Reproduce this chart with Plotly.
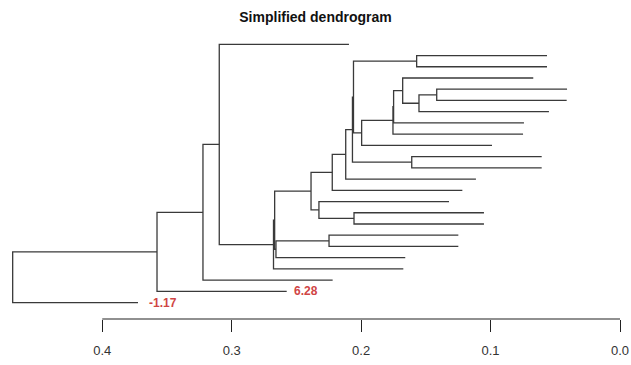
import plotly.graph_objects as go

# ---- data ----
# leaves in display order (top -> bottom); value = height where each leaf line ends
leaf_heights = [0.2094, 0.0564, 0.0564, 0.0670, 0.0409, 0.0412, 0.0549, 0.0742,
                0.0749, 0.0989, 0.0605, 0.0605, 0.1113, 0.1218, 0.1321, 0.1051,
                0.1051, 0.1249, 0.1249, 0.1659, 0.1674, 0.2220, 0.2575, 0.3724]
leaf_labels = {22: "6.28", 23: "-1.17"}

# merges: (node name, child a, child b, merge height); ints are leaves
merge_nodes = ["V", "U", "S", "T1", "T2", "P", "A", "M1", "B", "M2", "K", "C",
               "F", "E", "D", "G", "N1", "N2", "N3", "N4", "N5", "N6", "Root"]
merge_a = [4, "V", 3, "S", "T1", "T2", 1, "A", 10, "M1", "M2", "K",
           15, 14, "C", 17, "G", "D", "N2", 0, "N4", "N5", "N6"]
merge_b = [5, 6, "U", 7, 8, 9, 2, "P", 11, "B", 12, 13,
           16, "F", "E", 18, 19, "N1", 20, "N3", 21, 22, 23]
merge_h = [0.1416, 0.1553, 0.1679, 0.1749, 0.1754, 0.1996, 0.1571, 0.2059,
           0.1609, 0.2067, 0.2119, 0.2223, 0.2055, 0.2326, 0.2387, 0.2248,
           0.2658, 0.2668, 0.2677, 0.3096, 0.3222, 0.3577, 0.4692]

title_text = "Simplified dendrogram"
tick_vals = [0.4, 0.3, 0.2, 0.1, 0.0]
tick_text = ["0.4", "0.3", "0.2", "0.1", "0.0"]

# ---- build segments ----
pos = {}
hgt = {}
for i, h in enumerate(leaf_heights):
    pos[i] = i
    hgt[i] = h

xs, ys = [], []
for name, a, b, h in zip(merge_nodes, merge_a, merge_b, merge_h):
    ya, yb = pos[a], pos[b]
    xs += [hgt[a], h, h, hgt[b], None]
    ys += [ya, ya, yb, yb, None]
    pos[name] = (ya + yb) / 2
    hgt[name] = h

fig = go.Figure()
fig.add_trace(go.Scatter(x=xs, y=ys, mode="lines",
                         line=dict(color="#3a3a3a", width=1.3),
                         hoverinfo="skip", showlegend=False))

for idx, lab in leaf_labels.items():
    fig.add_annotation(x=leaf_heights[idx], y=idx, text="<b>" + lab + "</b>", showarrow=False,
                       xanchor="left", yanchor="middle",
                       xshift=5 if idx == 22 else 9,
                       font=dict(family="Liberation Sans, Arial", size=12, color="#d04545"))

# axis baseline only from 0.0 to 0.4 (R style)
fig.add_shape(type="line", xref="x", yref="paper", x0=min(tick_vals), x1=max(tick_vals),
              y0=0, y1=0, line=dict(color="#222222", width=1.2))

fig.update_layout(
    width=631, height=365,
    margin=dict(l=0, r=0, t=30, b=46),
    paper_bgcolor="white", plot_bgcolor="white",
    title=dict(text="<b>" + title_text + "</b>", x=0.5, xanchor="center",
               y=1 - 17 / 365, yanchor="middle", yref="container",
               font=dict(family="Liberation Sans, Arial", size=14, color="#111111")),
    xaxis=dict(range=[0.4790, -0.0085], showgrid=False, zeroline=False, showline=False,
               tickvals=tick_vals, ticktext=tick_text, ticks="outside", ticklen=12,
               tickwidth=1.2, tickcolor="#222222", ticklabelstandoff=7,
               tickfont=dict(family="Liberation Sans, Arial", size=13, color="#333333")),
    yaxis=dict(range=[24.46, -1.273], visible=False),
)

fig.write_html("out.html")
